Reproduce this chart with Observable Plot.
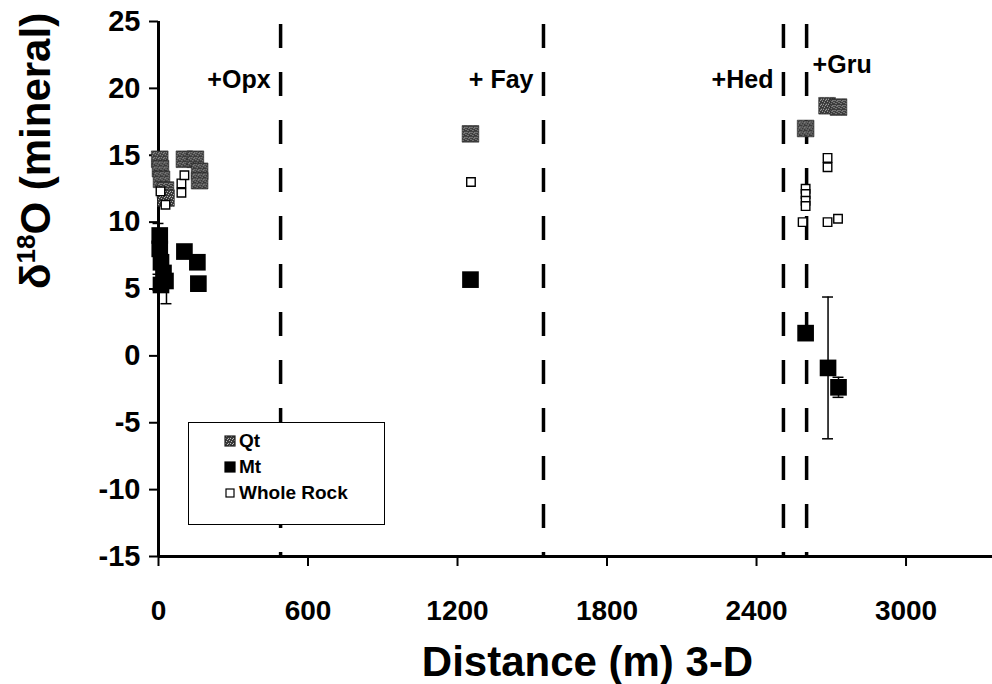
<!DOCTYPE html>
<html><head><meta charset="utf-8">
<script src="https://cdn.jsdelivr.net/npm/d3@7"></script>
<script src="https://cdn.jsdelivr.net/npm/@observablehq/plot@0.6"></script>
<style>
body{margin:0;background:#fff;}
#wrap{position:relative;width:992px;height:684px;font-family:"Liberation Sans",Arial,sans-serif;}
#legend{position:absolute;left:188px;top:422px;width:197px;height:103px;border:1px solid #000;background:#fff;box-sizing:border-box;}
.row{position:absolute;left:35px;display:flex;align-items:center;font-weight:bold;font-size:19px;height:22px;}
.row svg{margin-right:3px;}
</style></head><body><div id="wrap"></div>
<script>
// axis ticks
const xTicks = [0, 600, 1200, 1800, 2400, 3000];
const yTicks = [-15, -10, -5, 0, 5, 10, 15, 20, 25];

// mineral-in boundaries
const boundaryDist = [490, 1545, 2508, 2601];
const boundaryLabel = ["+Opx", "+ Fay", "+Hed", "+Gru"];

// Qt (quartz)
const qtDist = [5, 8, 12, 28, 30, 104, 148, 165, 165, 1252, 2597, 2683, 2729];
const qtVal  = [14.7, 14.0, 13.2, 12.4, 11.8, 14.7, 14.7, 13.8, 13.1, 16.6, 17.0, 18.7, 18.6];

// Mt (magnetite)
const mtDist = [5, 5, 10, 20, 28, 10, 104, 156, 160, 1252, 2597, 2687, 2729];
const mtVal  = [9.0, 8.0, 7.0, 6.2, 5.6, 5.3, 7.8, 7.0, 5.4, 5.7, 1.7, -0.9, -2.35];

// Whole rock
const wrDist = [8, 28, 92, 92, 104, 1254, 2597, 2597, 2597, 2597, 2585, 2685, 2685, 2685, 2727];
const wrVal  = [12.3, 11.3, 12.9, 12.2, 13.5, 13.0, 12.5, 12.1, 11.6, 11.2, 10.0, 14.8, 14.1, 10.0, 10.25];

// error bars (Mt and Qt)
const errDist = [0, 0, 32, 0, 2687, 2729];
const errVal  = [9.2, 5.5, 5.0, 14.4, -0.9, -2.35];
const errHalf = [0.7, 0.6, 1.1, 0.6, 5.3, 0.75];

const font = "Liberation Sans, Arial, sans-serif";
const qt = qtDist.map((d, i) => ({d, v: qtVal[i]}));
const mt = mtDist.map((d, i) => ({d, v: mtVal[i]}));
const wr = wrDist.map((d, i) => ({d, v: wrVal[i]}));
const err = errDist.map((d, i) => ({d, lo: errVal[i] - errHalf[i], hi: errVal[i] + errHalf[i]}));
const bounds = boundaryDist.map((d, i) => ({d, label: boundaryLabel[i]}));

const chart = Plot.plot({
  width: 992, height: 684,
  marginLeft: 158, marginRight: 0, marginTop: 21, marginBottom: 128,
  x: {domain: [0, 3347]},
  y: {domain: [-15, 25]},
  style: {fontFamily: font, background: "white", color: "black"},
  marks: [
    Plot.axisY({ticks: yTicks, tickFormat: d => String(d), tickSize: 9, tickPadding: 9, fontSize: 29, fontWeight: "bold", strokeWidth: 2, label: null}),
    Plot.axisX({ticks: xTicks, tickFormat: d => String(d), tickSize: 10, tickPadding: 34, fontSize: 28, fontWeight: "bold", strokeWidth: 2, label: null}),
    Plot.ruleX([0], {strokeWidth: 3}),
    Plot.ruleY([-15], {strokeWidth: 3}),
    Plot.ruleX(bounds, {x: "d", strokeWidth: 3.5, strokeDasharray: "24,24", strokeDashoffset: 45}),
    Plot.text(bounds.slice(0, 3), {x: "d", text: "label", frameAnchor: "top", dy: 49, dx: -10, textAnchor: "end", fontSize: 25, fontWeight: "bold"}),
    Plot.text(bounds.slice(3), {x: "d", text: "label", frameAnchor: "top", dy: 34, dx: 6, textAnchor: "start", fontSize: 25, fontWeight: "bold"}),
    Plot.ruleX(err, {x: "d", y1: "lo", y2: "hi", strokeWidth: 1.5}),
    Plot.ruleY(err, {y: "lo", x1: d => d.d - 22, x2: d => d.d + 22, strokeWidth: 1.5}),
    Plot.ruleY(err, {y: "hi", x1: d => d.d - 22, x2: d => d.d + 22, strokeWidth: 1.5}),
    Plot.dot(mt, {x: "d", y: "v", symbol: "square", r: 9.4, fill: "black", stroke: "none"}),
    Plot.dot(qt, {x: "d", y: "v", symbol: "square", r: 9.4, fill: "url(#stipple)", stroke: "#222", strokeWidth: 0.6}),
    Plot.dot(wr, {x: "d", y: "v", symbol: "square", r: 4.8, fill: "white", stroke: "black", strokeWidth: 1.4}),
    Plot.text(["Distance (m) 3-D"], {frameAnchor: "bottom", dy: 119, dx: 12, fontSize: 42, fontWeight: "bold"}),
    Plot.text(["δ18O (mineral)"], {frameAnchor: "left", dx: -122, rotate: -90, fontSize: 42, fontWeight: "bold"})
  ]
});

// superscript in the y-axis title
d3.select(chart).selectAll("text").filter(function () { return this.textContent === "δ18O (mineral)"; })
  .each(function () {
    const t = d3.select(this);
    t.text(null);
    t.append("tspan").text("δ");
    t.append("tspan").attr("font-size", "26").attr("dy", "-15").text("18");
    t.append("tspan").attr("dy", "15").text("O (mineral)");
  });

// stipple pattern for Qt
const defs = d3.select(chart).insert("defs", ":first-child");
const pat = defs.append("pattern").attr("id", "stipple").attr("width", 5).attr("height", 5).attr("patternUnits", "userSpaceOnUse");
pat.append("rect").attr("width", 5).attr("height", 5).attr("fill", "#3a3a3a");
[[0,0],[2,1],[4,3],[1,3],[3,4]].forEach(([a,b]) => pat.append("rect").attr("x", a).attr("y", b).attr("width", 1).attr("height", 1).attr("fill", "#bbb"));

const wrap = document.getElementById("wrap");
wrap.appendChild(chart);

// legend
const legend = document.createElement("div");
legend.id = "legend";
const items = [
  {label: "Qt", fill: "url(#stipple)", stroke: "#222", size: 10},
  {label: "Mt", fill: "black", stroke: "black", size: 10},
  {label: "Whole Rock", fill: "white", stroke: "black", size: 8}
];
items.forEach((it, i) => {
  const row = document.createElement("div");
  row.className = "row";
  row.style.top = (7 + i * 26) + "px";
  row.innerHTML = `<svg width="12" height="12"><rect x="${(12 - it.size) / 2}" y="${(12 - it.size) / 2}" width="${it.size}" height="${it.size}" fill="${it.fill}" stroke="${it.stroke}" stroke-width="1.2"/></svg><span>${it.label}</span>`;
  legend.appendChild(row);
});
wrap.appendChild(legend);
</script>
</body></html>
